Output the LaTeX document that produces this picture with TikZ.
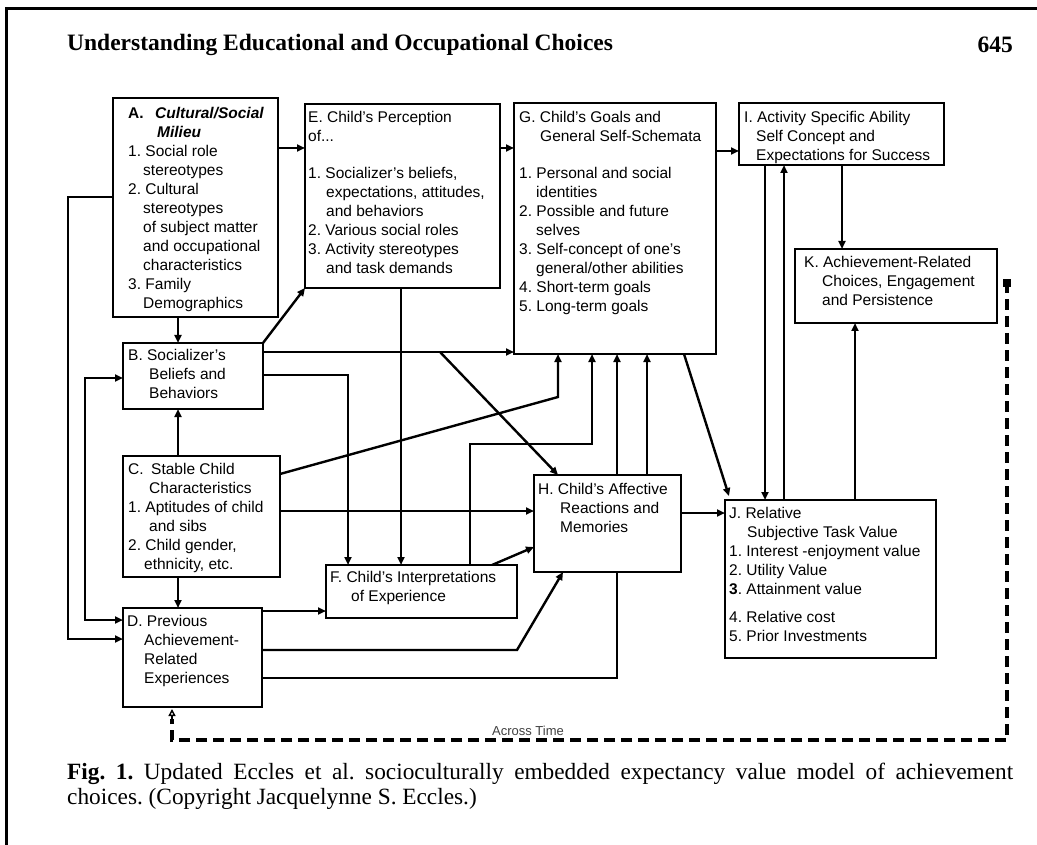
\documentclass[tikz,border=0pt]{standalone}
\usepackage{fontspec}
\setmainfont{Liberation Serif}
\setsansfont{Liberation Sans}
\usetikzlibrary{arrows.meta,calc}
\pgfdeclarelayer{background}
\pgfsetlayers{background,main}
\newcommand{\bodyfont}{\sffamily\fontsize{15.5}{19}\selectfont\frenchspacing}
\tikzset{
  box/.style={draw, fill=white, line width=2.6pt, inner sep=0pt, outer sep=0pt, anchor=north west},
  txt/.style={font=\bodyfont, align=left, anchor=north west, inner sep=0pt},
  conn/.style={line width=2.4pt, -{Triangle[length=8pt,width=7pt]}},
  plainline/.style={line width=2.4pt},
  feedback/.style={line width=4pt, dash pattern=on 11pt off 6pt},
}
\begin{document}
\begin{tikzpicture}[x=1pt,y=-1pt]
\useasboundingbox (0,0) rectangle (1037,845);
\draw[line width=3pt] (6,845) -- (6,9) -- (1037,9);

% header
\node[anchor=west, inner sep=0pt, font=\fontsize{23.5}{28}\selectfont\bfseries] (title) at (67,45) {Understanding Educational and Occupational Choices};
\node[anchor=east, inner sep=0pt, font=\fontsize{23.5}{28}\selectfont\bfseries] (page) at (1013,45) {645};

% boxes
\node[box, minimum width=165pt, minimum height=219pt] (A) at (113,98) {};
\node[box, minimum width=195pt, minimum height=184pt] (E) at (305,104) {};
\node[box, minimum width=202pt, minimum height=251pt] (G) at (514,103) {};
\node[box, minimum width=205pt, minimum height=62pt] (I) at (739,103) {};
\node[box, minimum width=202pt, minimum height=74pt] (K) at (795,249) {};
\node[box, minimum width=140pt, minimum height=66pt] (B) at (123,343) {};
\node[box, minimum width=157pt, minimum height=121pt] (C) at (123,456) {};
\node[box, minimum width=191pt, minimum height=53pt] (F) at (326,565) {};
\node[box, minimum width=147pt, minimum height=97pt] (H) at (534,475) {};
\node[box, minimum width=211pt, minimum height=158pt] (J) at (725,500) {};
\node[box, minimum width=139pt, minimum height=99pt] (D) at (123,608) {};

% texts
\node[txt] (At) at ($(A.north west)+(15,7)$) {\strut\makebox[27pt][l]{\textbf{A.}}\textbf{\textit{Cultural/Social}}\\
\hspace*{29pt}\textbf{\textit{Milieu}}\\
1. Social role\\
\hspace*{15pt}stereotypes\\
2. Cultural\\
\hspace*{15pt}stereotypes\\
\hspace*{15pt}of subject matter\\
\hspace*{15pt}and occupational\\
\hspace*{15pt}characteristics\\
3. Family\\
\hspace*{15pt}Demographics};

\node[txt] (Et) at ($(E.north west)+(3,5)$) {\strut E. Child's Perception\\
of...\\[18pt]
1. Socializer's beliefs,\\
\hspace*{18pt}expectations, attitudes,\\
\hspace*{18pt}and behaviors\\
2. Various social roles\\
3. Activity stereotypes\\
\hspace*{18pt}and task demands};

\node[txt] (Gt) at ($(G.north west)+(5,6)$) {\strut G. Child's Goals and\\
\hspace*{21pt}General Self-Schemata\\[18pt]
1. Personal and social\\
\hspace*{17pt}identities\\
2. Possible and future\\
\hspace*{17pt}selves\\
3. Self-concept of one's\\
\hspace*{17pt}general/other abilities\\
4. Short-term goals\\
5. Long-term goals};

\node[txt] (It) at ($(I.north west)+(5,6)$) {\strut I. Activity Specific Ability\\
\hspace*{12pt}Self Concept and\\
\hspace*{12pt}Expectations for Success};

\node[txt] (Kt) at ($(K.north west)+(9,5)$) {\strut K. Achievement-Related\\
\hspace*{18pt}Choices, Engagement\\
\hspace*{18pt}and Persistence};

\node[txt] (Bt) at ($(B.north west)+(5,4)$) {\strut B. Socializer's\\
\hspace*{21pt}Beliefs and\\
\hspace*{21pt}Behaviors};

\node[txt] (Ct) at ($(C.north west)+(5,5)$) {\strut\makebox[23pt][l]{C.}Stable Child\\
\hspace*{21pt}Characteristics\\
1. Aptitudes of child\\
\hspace*{21pt}and sibs\\
2. Child gender,\\
\hspace*{16pt}ethnicity, etc.};

\node[txt] (Ft) at ($(F.north west)+(4,4)$) {\strut F. Child's Interpretations\\
\hspace*{21pt}of Experience};

\node[txt] (Ht) at ($(H.north west)+(4,6)$) {\strut H. Child's Affective\\
\hspace*{22pt}Reactions and\\
\hspace*{22pt}Memories};

\node[txt] (Jt) at ($(J.north west)+(4,5)$) {\strut J. Relative\\
\hspace*{18pt}Subjective Task Value\\
1. Interest -enjoyment value\\
2. Utility Value\\
\textbf{3}. Attainment value\\[9pt]
4. Relative cost\\
5. Prior Investments};

\node[txt] (Dt) at ($(D.north west)+(4,5)$) {\strut D. Previous\\
\hspace*{17pt}Achievement-\\
\hspace*{17pt}Related\\
\hspace*{17pt}Experiences};

% connectors
\begin{pgfonlayer}{background}
\draw[conn] ($(A.north east)+(0,50)$) -- ($(E.north west)+(0,44)$);
\draw[conn] ($(E.north east)+(0,44)$) -- ($(G.north west)+(0,45)$);
\draw[conn] ($(G.north east)+(0,48)$) -- ($(I.north west)+(0,48)$);
\draw[conn] ($(A.south west)+(65,0)$) -- ($(B.north west)+(55,0)$);
\draw[conn] (B.north east) -- (E.south west);
\draw[conn] ($(B.north east)+(0,9)$) -- ($(G.south west)+(0,-2)$);
\draw[conn] ($(B.north east)+(177,9)$) -- ($(H.north west)+(24,0)$);
\draw[conn] ($(B.north east)+(0,32)$) -| ($(F.north west)+(22,0)$);
\draw[conn] ($(E.south west)+(96,0)$) -- ($(F.north west)+(75,0)$);
\draw[conn] ($(C.north east)+(0,18)$) -- ($(G.south west)+(44,43)$) -- ($(G.south west)+(44,0)$);
\draw[conn] ($(C.north east)+(0,55)$) -- ($(H.north west)+(0,36)$);
\draw[conn] ($(C.north west)+(55,0)$) -- ($(B.south west)+(55,0)$);
\draw[conn] ($(C.south west)+(55,0)$) -- ($(D.north west)+(55,0)$);
\draw[conn] ($(F.north west)+(144,0)$) |- ($(G.south west)+(78,90)$) -- ($(G.south west)+(78,0)$);
\draw[conn] ($(F.north west)+(166,0)$) -- ($(H.north west)+(0,72)$);
\draw[conn] ($(D.north east)+(0,70)$) -| ($(G.south west)+(103,0)$);
\draw[conn] ($(H.north west)+(113,0)$) -- ($(G.south west)+(133,0)$);
\draw[conn] ($(D.north east)+(0,42)$) -- ($(D.north east)+(255,42)$) -- ($(H.south west)+(29,0)$);
\draw[conn] ($(D.north east)+(0,3)$) -- ($(F.north west)+(0,46)$);
\draw[conn] ($(A.north west)+(0,99)$) -- ($(A.north west)+(-45,99)$) |- ($(D.north west)+(0,31)$);
\draw[plainline, {Triangle[length=8pt,width=7pt]}-{Triangle[length=8pt,width=7pt]}] ($(B.north west)+(0,35)$) -- ($(B.north west)+(-38,35)$) |- ($(D.north west)+(0,12)$);
\draw[conn] ($(H.north east)+(0,38)$) -- ($(J.north west)+(0,13)$);
\draw[conn] ($(G.south west)+(170,0)$) -- ($(J.north west)+(4,-4)$);
\draw[conn] ($(I.south west)+(26,0)$) -- ($(J.north west)+(40,0)$);
\draw[conn] ($(J.north west)+(59,0)$) -- ($(I.south west)+(45,0)$);
\draw[conn] ($(I.south west)+(103,0)$) -- ($(K.north west)+(47,0)$);
\draw[conn] ($(J.north west)+(130,0)$) -- ($(K.south west)+(60,0)$);
\end{pgfonlayer}

% feedback across time
\coordinate (Kd) at ($(K.north east)+(10,33)$);
\coordinate (Dd) at ($(D.south west)+(49,12)$);
\fill (Kd) ++(-4,-3) rectangle ++(8,8);
\draw[feedback] (Kd) -- ($(Kd)+(0,458)$) -| (Dd);
\draw[line width=1.4pt, -{Triangle[open,length=7pt,width=7pt]}] (Dd) -- ($(D.south west)+(49,2)$);
\node[font=\sffamily\fontsize{13}{15}\selectfont, text=black!75, inner sep=0pt] (across) at (528,731) {Across Time};

% caption
\node[anchor=base west, inner sep=0pt, font=\fontsize{23.3}{26}\selectfont\frenchspacing] (cap1) at (67,779) {\makebox[946pt][s]{\textbf{Fig. 1.} Updated Eccles et al. socioculturally embedded expectancy value model of achievement}};
\node[anchor=base west, inner sep=0pt, font=\fontsize{23.3}{26}\selectfont\frenchspacing] (cap2) at (67,804) {choices. (Copyright Jacquelynne S. Eccles.)};
\end{tikzpicture}
\end{document}
